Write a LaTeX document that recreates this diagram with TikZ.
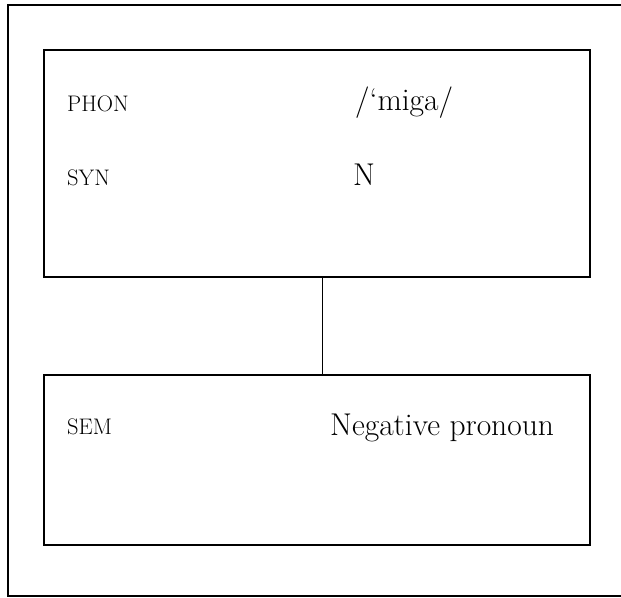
\documentclass[tikz,border=0pt]{standalone}
\usepackage{tikz}
\usetikzlibrary{positioning}
\tikzset{
  featbox/.style={draw,line width=1.4pt,minimum width=546pt,inner sep=0pt},
  attr/.style={font=\fontsize{22.5}{27}\selectfont,inner sep=0pt,anchor=base west},
  value/.style={font=\fontsize{31.5}{38}\selectfont,inner sep=0pt,anchor=base west},
  link/.style={line width=1.1pt},
  frame/.style={line width=1.8pt}
}

\begin{document}
\begin{tikzpicture}[x=1pt,y=-1pt]
  \useasboundingbox (0,0) rectangle (621,597);
  % open frame, its right side runs off the page
  \draw[frame] (630,5) -| (8,596) -- (630,596);

  % form and meaning boxes
  \node[featbox,minimum height=227pt] (form) at (317,163.5) {};
  \node[featbox,minimum height=170pt] (meaning) at (317,460) {};

  \node[attr] (phon) at (67,111) {PHON};
  \node[value] (phonval) at (355,110) {/‘miga/};
  \node[attr] (syn) at (67,185) {SYN};
  \node[value] (synval) at (353,185) {N};
  \node[attr] (sem) at (67,434) {SEM};
  \node[value] (semval) at (330,435) {Negative pronoun};

  \draw[link] ([xshift=5.7pt]form.south) -- ([xshift=5.7pt]meaning.north);
\end{tikzpicture}
\end{document}
